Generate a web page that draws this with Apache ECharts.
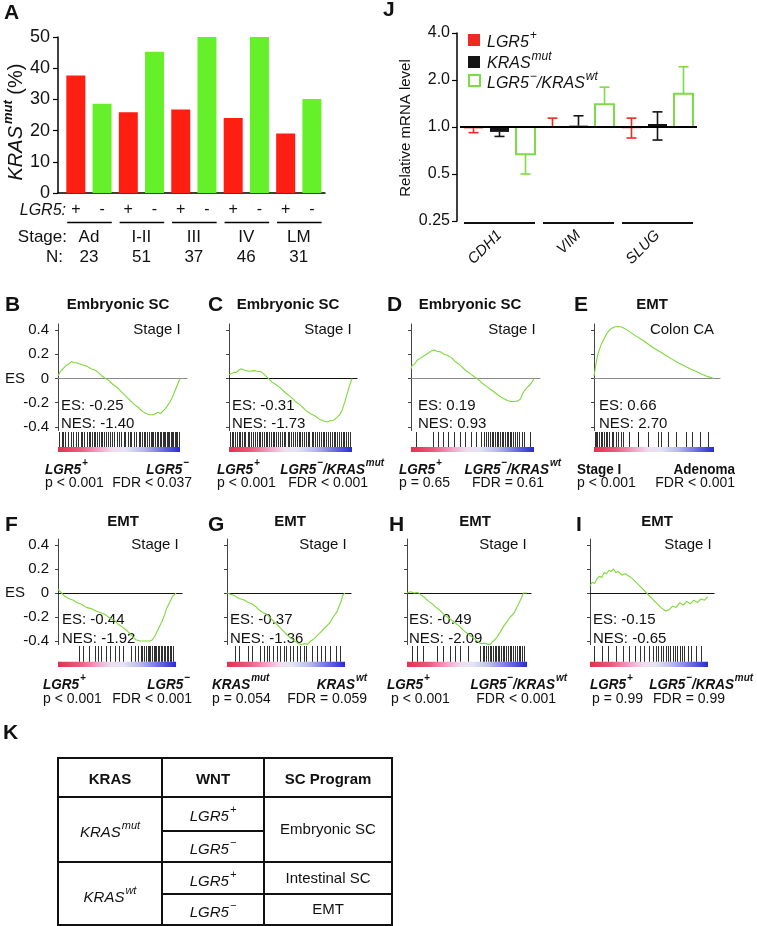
<!DOCTYPE html>
<html><head><meta charset="utf-8">
<script src="https://cdn.jsdelivr.net/npm/echarts@6/dist/echarts.min.js"></script>
<style>html,body{margin:0;padding:0;background:#fff}#c{width:757px;height:926px}</style>
</head><body><div id="c"></div>
<script>
// ---------- Panel A data ----------
const stageNames = ['Ad', 'I-II', 'III', 'IV', 'LM'];
const stageN = ['23', '51', '37', '46', '31'];
const lgr5Signs = ['+', '-'];
const krasMutLgr5Pos = [37.7, 25.9, 26.8, 24.0, 19.1];
const krasMutLgr5Neg = [28.6, 45.3, 50.0, 50.0, 30.1];

// ---------- Panel J data ----------
const genes = ['CDH1', 'VIM', 'SLUG'];
const jTicks = [0.25, 0.5, 1, 2, 4];
const lgr5PosLevel = [0.98, 1.01, 0.99];
const lgr5PosLow = [0.92, 1.01, 0.85];
const lgr5PosHigh = [0.98, 1.14, 1.14];
const krasMutLevel = [0.93, 1.02, 1.045];
const krasMutLow = [0.87, 1.02, 0.825];
const krasMutHigh = [0.93, 1.18, 1.25];
const wtLevel = [0.67, 1.40, 1.63];
const wtLow = [0.50, 1.40, 1.63];
const wtHigh = [0.67, 1.80, 2.43];

// ---------- GSEA panels B-I ----------
const panelLetters = ['B', 'C', 'D', 'E', 'F', 'G', 'H', 'I'];
const gseaTitles = ['Embryonic SC', 'Embryonic SC', 'Embryonic SC', 'EMT', 'EMT', 'EMT', 'EMT', 'EMT'];
const gseaSubtitles = ['Stage I', 'Stage I', 'Stage I', 'Colon CA', 'Stage I', 'Stage I', 'Stage I', 'Stage I'];
const esValues = ['-0.25', '-0.31', '0.19', '0.66', '-0.44', '-0.37', '-0.49', '-0.15'];
const nesValues = ['-1.40', '-1.73', '0.93', '2.70', '-1.92', '-1.36', '-2.09', '-0.65'];
const groupLeft = ['LGR5^+', 'LGR5^+', 'LGR5^+', 'Stage I', 'LGR5^+', 'KRAS^mut', 'LGR5^+', 'LGR5^+'];
const groupRight = ['LGR5^−', 'LGR5^−/KRAS^mut', 'LGR5^−/KRAS^wt', 'Adenoma', 'LGR5^−', 'KRAS^wt', 'LGR5^−/KRAS^wt', 'LGR5^−/KRAS^mut'];
const pValues = ['p < 0.001', 'p < 0.001', 'p = 0.65', 'p < 0.001', 'p < 0.001', 'p = 0.054', 'p < 0.001', 'p = 0.99'];
const fdrValues = ['FDR < 0.037', 'FDR < 0.001', 'FDR = 0.61', 'FDR < 0.001', 'FDR < 0.001', 'FDR = 0.059', 'FDR < 0.001', 'FDR = 0.99'];
const esTicks = [-0.4, -0.2, 0, 0.2, 0.4];

const esCurveB = [[0,0.02],[0.015,0.05],[0.03,0.07],[0.05,0.09],[0.07,0.11],[0.09,0.12],[0.11,0.14],[0.13,0.13],[0.15,0.13],[0.18,0.12],[0.21,0.11],[0.24,0.10],[0.27,0.08],[0.3,0.07],[0.33,0.05],[0.36,0.02],[0.39,0.0],[0.42,-0.02],[0.45,-0.05],[0.48,-0.07],[0.51,-0.10],[0.54,-0.13],[0.57,-0.16],[0.6,-0.19],[0.63,-0.22],[0.66,-0.24],[0.69,-0.27],[0.72,-0.29],[0.75,-0.30],[0.78,-0.30],[0.8,-0.29],[0.82,-0.28],[0.84,-0.29],[0.86,-0.27],[0.88,-0.25],[0.9,-0.22],[0.92,-0.19],[0.94,-0.15],[0.96,-0.10],[0.98,-0.05],[1,0]];
const esCurveC = [[0,0.03],[0.02,0.04],[0.04,0.05],[0.06,0.05],[0.08,0.07],[0.1,0.08],[0.12,0.07],[0.14,0.065],[0.17,0.06],[0.2,0.065],[0.23,0.06],[0.26,0.055],[0.28,0.04],[0.3,0.02],[0.32,0.0],[0.35,-0.03],[0.38,-0.05],[0.42,-0.08],[0.46,-0.12],[0.5,-0.15],[0.54,-0.19],[0.58,-0.22],[0.62,-0.26],[0.66,-0.29],[0.7,-0.31],[0.74,-0.34],[0.78,-0.355],[0.8,-0.36],[0.82,-0.35],[0.85,-0.345],[0.88,-0.32],[0.9,-0.30],[0.92,-0.26],[0.94,-0.20],[0.96,-0.13],[0.98,-0.06],[1,0]];
const esCurveD = [[0,0.08],[0.01,0.11],[0.03,0.12],[0.05,0.15],[0.08,0.17],[0.11,0.19],[0.14,0.21],[0.17,0.23],[0.19,0.235],[0.21,0.225],[0.24,0.22],[0.27,0.20],[0.3,0.19],[0.33,0.17],[0.36,0.14],[0.4,0.11],[0.44,0.07],[0.48,0.04],[0.52,0.01],[0.55,-0.01],[0.58,-0.04],[0.62,-0.07],[0.66,-0.10],[0.7,-0.13],[0.74,-0.16],[0.78,-0.18],[0.81,-0.19],[0.84,-0.19],[0.87,-0.185],[0.89,-0.17],[0.91,-0.12],[0.93,-0.09],[0.95,-0.07],[0.97,-0.05],[0.99,-0.02],[1,0]];
const esCurveE = [[0,0.02],[0.01,0.08],[0.02,0.14],[0.03,0.19],[0.045,0.24],[0.06,0.28],[0.08,0.32],[0.1,0.36],[0.12,0.39],[0.14,0.41],[0.17,0.425],[0.2,0.43],[0.23,0.425],[0.26,0.41],[0.3,0.385],[0.35,0.35],[0.4,0.32],[0.45,0.285],[0.5,0.25],[0.55,0.22],[0.6,0.19],[0.65,0.16],[0.7,0.13],[0.75,0.105],[0.8,0.08],[0.85,0.06],[0.9,0.035],[0.95,0.015],[1,0]];
const esCurveF = [[0,0.03],[0.03,0.0],[0.06,-0.03],[0.1,-0.05],[0.13,-0.06],[0.16,-0.08],[0.21,-0.10],[0.24,-0.12],[0.28,-0.13],[0.32,-0.15],[0.35,-0.16],[0.4,-0.18],[0.44,-0.21],[0.48,-0.23],[0.51,-0.26],[0.54,-0.28],[0.58,-0.31],[0.62,-0.35],[0.66,-0.39],[0.7,-0.40],[0.74,-0.40],[0.78,-0.40],[0.8,-0.39],[0.82,-0.36],[0.84,-0.32],[0.86,-0.28],[0.88,-0.24],[0.9,-0.19],[0.92,-0.13],[0.95,-0.07],[0.97,-0.03],[1,0]];
const esCurveG = [[0,0],[0.03,-0.01],[0.06,-0.02],[0.09,-0.04],[0.12,-0.05],[0.15,-0.06],[0.18,-0.08],[0.21,-0.09],[0.24,-0.11],[0.27,-0.14],[0.3,-0.16],[0.34,-0.18],[0.38,-0.22],[0.42,-0.26],[0.47,-0.31],[0.51,-0.35],[0.56,-0.39],[0.6,-0.42],[0.63,-0.43],[0.66,-0.42],[0.68,-0.43],[0.71,-0.40],[0.74,-0.38],[0.76,-0.36],[0.79,-0.33],[0.82,-0.30],[0.85,-0.27],[0.87,-0.25],[0.9,-0.20],[0.93,-0.16],[0.95,-0.11],[0.97,-0.06],[0.98,-0.02],[1,0]];
const esCurveH = [[0,0],[0.03,0.01],[0.06,0.0],[0.09,0.005],[0.12,-0.02],[0.15,-0.04],[0.18,-0.07],[0.21,-0.09],[0.24,-0.12],[0.27,-0.14],[0.31,-0.18],[0.35,-0.21],[0.39,-0.24],[0.44,-0.28],[0.48,-0.32],[0.52,-0.35],[0.56,-0.38],[0.61,-0.42],[0.65,-0.42],[0.69,-0.43],[0.72,-0.40],[0.75,-0.37],[0.78,-0.32],[0.81,-0.27],[0.84,-0.23],[0.86,-0.20],[0.89,-0.17],[0.92,-0.11],[0.95,-0.05],[0.97,0.0],[1,0]];
const esCurveI = [[0,0.06],[0.02,0.09],[0.04,0.08],[0.06,0.12],[0.08,0.14],[0.1,0.13],[0.12,0.17],[0.14,0.16],[0.16,0.19],[0.18,0.18],[0.2,0.2],[0.22,0.17],[0.24,0.18],[0.27,0.15],[0.3,0.16],[0.33,0.14],[0.36,0.12],[0.4,0.08],[0.44,0.04],[0.48,0.0],[0.52,-0.04],[0.56,-0.08],[0.6,-0.12],[0.64,-0.15],[0.67,-0.14],[0.7,-0.11],[0.73,-0.12],[0.76,-0.08],[0.79,-0.1],[0.82,-0.07],[0.85,-0.09],[0.88,-0.06],[0.91,-0.08],[0.94,-0.05],[0.97,-0.06],[1,-0.03]];

const hitsB = [0.01,0.03,0.045,0.06,0.08,0.105,0.12,0.145,0.16,0.185,0.2,0.215,0.235,0.25,0.262,0.28,0.293,0.305,0.32,0.337,0.35,0.364,0.378,0.392,0.41,0.426,0.44,0.46,0.483,0.5,0.52,0.537,0.553,0.572,0.588,0.6,0.622,0.641,0.66,0.676,0.69,0.703,0.716,0.731,0.746,0.76,0.771,0.782,0.797,0.81,0.821,0.833,0.846,0.858,0.869,0.88,0.892,0.9,0.912,0.923,0.936,0.946,0.955,0.966,0.977,0.988];
const hitsC = [0.008,0.022,0.036,0.05,0.063,0.081,0.092,0.107,0.121,0.133,0.152,0.166,0.178,0.196,0.208,0.224,0.243,0.256,0.268,0.281,0.297,0.311,0.322,0.343,0.355,0.368,0.386,0.402,0.413,0.431,0.447,0.458,0.476,0.491,0.504,0.522,0.533,0.551,0.566,0.579,0.597,0.608,0.626,0.641,0.653,0.672,0.684,0.698,0.716,0.728,0.744,0.762,0.773,0.791,0.803,0.821,0.834,0.852,0.863,0.879,0.896,0.908,0.926,0.938,0.953,0.971,0.984];
const hitsD = [0.04,0.18,0.22,0.26,0.3,0.35,0.4,0.44,0.49,0.53,0.57,0.59,0.61,0.625,0.64,0.655,0.67,0.685,0.7,0.71,0.725,0.74,0.75,0.765,0.78,0.79,0.805,0.815,0.83,0.845,0.86,0.875,0.9,0.92,0.97];
const hitsE = [0.005,0.014,0.028,0.042,0.056,0.07,0.084,0.098,0.11,0.126,0.146,0.16,0.18,0.2,0.224,0.24,0.29,0.365,0.37,0.45,0.53,0.56,0.62,0.68,0.77,0.82,0.88,0.95];
const hitsF = [0.18,0.21,0.265,0.31,0.34,0.365,0.41,0.44,0.48,0.52,0.55,0.62,0.65,0.68,0.7,0.715,0.73,0.745,0.76,0.77,0.78,0.795,0.81,0.82,0.83,0.845,0.86,0.87,0.88,0.895,0.91,0.92,0.935,0.95,0.96,0.975];
const hitsG = [0.07,0.1,0.18,0.21,0.28,0.31,0.34,0.36,0.39,0.42,0.45,0.48,0.5,0.53,0.56,0.59,0.62,0.65,0.67,0.72,0.76,0.8,0.83,0.87,0.92,0.96];
const hitsH = [0.04,0.08,0.135,0.25,0.3,0.36,0.4,0.44,0.51,0.61,0.63,0.645,0.66,0.675,0.69,0.7,0.715,0.73,0.74,0.755,0.77,0.785,0.8,0.81,0.825,0.84,0.855,0.87,0.885,0.9,0.915,0.93,0.945,0.96,0.975];
const hitsI = [0.03,0.1,0.15,0.22,0.28,0.33,0.38,0.42,0.46,0.5,0.53,0.56,0.58,0.6,0.62,0.64,0.66,0.68,0.7,0.72,0.74,0.76,0.78,0.8,0.83,0.86,0.9,0.94];

const esCurves = [esCurveB, esCurveC, esCurveD, esCurveE, esCurveF, esCurveG, esCurveH, esCurveI];
const hitLists = [hitsB, hitsC, hitsD, hitsE, hitsF, hitsG, hitsH, hitsI];

// ---------- Panel K table ----------
const tableHeader = ['KRAS', 'WNT', 'SC Program'];
const tableKras = ['KRAS^mut', 'KRAS^wt'];
const tableWnt = ['LGR5^+', 'LGR5^−', 'LGR5^+', 'LGR5^−'];
const tableProgram = ['Embryonic SC', 'Intestinal SC', 'EMT'];

// ================= build =================
const FONT = '"Liberation Sans", Arial, Helvetica, sans-serif';
const RED = '#ff1e12', GREEN = '#66f02a', JGREEN = '#7ddc45', CURVE = '#7fd83c', INK = '#111';

function toRich(s, b, p) {
  const out = '{' + b + '|' + s.replace(/\^([^\/]+)/g, '}{' + p + '|$1}{' + b + '|') + '}';
  return out.split('{' + b + '|}').join('');
}
function txt(x, y, text, o) {
  o = o || {};
  const st = Object.assign({ text: text, fill: INK, fontFamily: FONT, fontSize: 15 }, o);
  const a = o.align || 'left', va = o.valign || 'middle';
  st.textAlign = a; st.align = a; st.textVerticalAlign = va; st.verticalAlign = va;
  delete st.valign;
  const el = { type: 'text', x: x, y: y, silent: true, style: st };
  if (o.rotation) { el.rotation = o.rotation; delete st.rotation; }
  if (o.scaleX) { el.scaleX = o.scaleX; delete st.scaleX; }
  return el;
}
const supRich = (size, bold, italic) => ({
  b: { fontFamily: FONT, fontSize: size, fontWeight: bold ? 'bold' : 'normal', fontStyle: italic ? 'italic' : 'normal', fill: INK, color: INK, lineHeight: size + 5, verticalAlign: 'bottom' },
  p: { fontFamily: FONT, fontSize: Math.round(size * 0.72), fontWeight: bold ? 'bold' : 'normal', fontStyle: italic ? 'italic' : 'normal', fill: INK, color: INK, lineHeight: Math.round(size * 0.72) + 1, verticalAlign: 'top', padding: [0, 0, 0, 1] }
});

const grids = [], xAxes = [], yAxes = [], series = [], G = [];

// ---- Panel A ----
grids.push({ left: 58, top: 37, width: 267, height: 156 });
const aX = { gridIndex: 0, type: 'value', min: -0.68, max: 9.5, splitLine: { show: false }, axisTick: { show: false } };
xAxes.push(Object.assign({}, aX, {
  axisLine: { show: true, onZero: false, lineStyle: { color: '#000', width: 1.5 } },
  axisLabel: { customValues: stageNames.flatMap((_, i) => [2 * i, 2 * i + 1]), formatter: v => lgr5Signs[Math.round(v) % 2], fontSize: 16, margin: 9, color: INK, fontFamily: FONT }
}));
xAxes.push(Object.assign({}, aX, {
  position: 'bottom', offset: 30, axisLine: { show: false, onZero: false },
  axisLabel: { customValues: stageNames.map((_, i) => 2 * i + 0.5), formatter: v => stageNames[Math.round((v - 0.5) / 2)], fontSize: 17, margin: 6, color: INK, fontFamily: FONT }
}));
xAxes.push(Object.assign({}, aX, {
  position: 'bottom', offset: 50, axisLine: { show: false, onZero: false },
  axisLabel: { customValues: stageNames.map((_, i) => 2 * i + 0.5), formatter: v => stageN[Math.round((v - 0.5) / 2)], fontSize: 17, margin: 6, color: INK, fontFamily: FONT }
}));
yAxes.push({ gridIndex: 0, type: 'value', min: 0, max: 50, interval: 10,
  axisLine: { show: true, onZero: false, lineStyle: { color: '#000', width: 1.5 } },
  axisTick: { show: true, length: 5, lineStyle: { color: '#000', width: 1.2 } },
  splitLine: { show: false },
  axisLabel: { fontSize: 18, margin: 8, color: INK, fontFamily: FONT } });
series.push({ type: 'bar', name: 'LGR5+', xAxisIndex: 0, yAxisIndex: 0, barWidth: 19, barGap: '-100%', itemStyle: { color: RED }, data: krasMutLgr5Pos.map((v, i) => [2 * i, v]) });
series.push({ type: 'bar', name: 'LGR5-', xAxisIndex: 0, yAxisIndex: 0, barWidth: 19, barGap: '-100%', itemStyle: { color: GREEN }, data: krasMutLgr5Neg.map((v, i) => [2 * i + 1, v]) });
series.push({ type: 'custom', xAxisIndex: 0, yAxisIndex: 0, silent: true, clip: false,
  data: stageNames.map((_, i) => [2 * i, 2 * i + 1]),
  encode: { x: [0, 1] },
  renderItem: (p, api) => {
    const a = api.coord([api.value(0) - 0.33, 0]), b = api.coord([api.value(1) + 0.37, 0]);
    return { type: 'line', shape: { x1: a[0], y1: a[1] + 29.5, x2: b[0], y2: b[1] + 29.5 }, style: { stroke: '#000', lineWidth: 1.5 } };
  } });
G.push(txt(4, 13, 'A', { fontSize: 21, fontWeight: 'bold' }));
G.push(txt(66, 211, 'LGR5:', { align: 'right', fontSize: 16, fontStyle: 'italic' }));
G.push(txt(67, 237, 'Stage:', { align: 'right', fontSize: 17 }));
G.push(txt(63, 257, 'N:', { align: 'right', fontSize: 17 }));
G.push(txt(14, 122, '{i|KRAS}{s|mut}{n| (%)}', { align: 'center', rotation: Math.PI / 2,
  rich: { i: { fontFamily: FONT, fontSize: 20, fontStyle: 'italic', fill: INK, lineHeight: 24, verticalAlign: 'bottom' },
          s: { fontFamily: FONT, fontSize: 13, fontStyle: 'italic', fontWeight: 'bold', fill: INK, lineHeight: 14, verticalAlign: 'top', padding: [0, 0, 0, 2] },
          n: { fontFamily: FONT, fontSize: 20, fill: INK, lineHeight: 24, verticalAlign: 'bottom' } } }));

// ---- Panel J ----
grids.push({ left: 460, top: 33, width: 237, height: 188 });
const JX = xAxes.length;
xAxes.push({ gridIndex: 1, type: 'category', data: genes, axisLine: { show: false }, axisTick: { show: false }, splitLine: { show: false },
  axisLabel: { rotate: 45, fontStyle: 'italic', fontSize: 15, margin: 12, color: INK, fontFamily: FONT } });
const JY = yAxes.length;
yAxes.push({ gridIndex: 1, type: 'log', logBase: 2, min: 0.25, max: 4, offset: 3,
  axisLine: { show: true, onZero: false, lineStyle: { color: '#000', width: 1.5 } },
  axisTick: { show: true, length: 5, customValues: jTicks, lineStyle: { color: '#000', width: 1.2 } },
  splitLine: { show: false },
  axisLabel: { customValues: jTicks, fontSize: 16, margin: 7, color: INK, fontFamily: FONT,
    formatter: v => { const r = Math.round(v * 100) / 100; return r < 1 ? String(r) : r.toFixed(1); } } });
function jSeries(name, lv, lo, hi, color, hollow, off) {
  return { type: 'custom', name: name, xAxisIndex: JX, yAxisIndex: JY, silent: true, clip: false,
    data: lv.map((v, i) => [i, v, lo[i], hi[i]]), encode: { x: 0, y: [1, 2, 3] },
    renderItem: (p, api) => {
      const i = api.value(0), v = api.value(1), l = api.value(2), h = api.value(3);
      const base = api.coord([i, 1]), cv = api.coord([i, v]);
      const cx = base[0] + off, yl = api.coord([i, l])[1], yh = api.coord([i, h])[1];
      const w = 19, ch = [];
      const top = Math.min(base[1], cv[1]), ht = Math.max(Math.abs(base[1] - cv[1]), 1.2);
      ch.push({ type: 'rect', shape: { x: cx - w / 2, y: top, width: w, height: ht },
        style: hollow ? { fill: '#fff', stroke: color, lineWidth: 2 } : { fill: color } });
      ch.push({ type: 'line', shape: { x1: cx, y1: yl, x2: cx, y2: yh }, style: { stroke: color, lineWidth: 1.6 } });
      if (Math.abs(l - v) > 1e-6) ch.push({ type: 'line', shape: { x1: cx - 5, y1: yl, x2: cx + 5, y2: yl }, style: { stroke: color, lineWidth: 1.6 } });
      if (Math.abs(h - v) > 1e-6) ch.push({ type: 'line', shape: { x1: cx - 5, y1: yh, x2: cx + 5, y2: yh }, style: { stroke: color, lineWidth: 1.6 } });
      return { type: 'group', children: ch };
    } };
}
series.push(jSeries('LGR5+', lgr5PosLevel, lgr5PosLow, lgr5PosHigh, '#ee2a22', false, -26));
const blackS = jSeries('KRASmut', krasMutLevel, krasMutLow, krasMutHigh, '#151515', false, 0);
blackS.markLine = { silent: true, symbol: 'none', label: { show: false }, data: [{ yAxis: 1 }], lineStyle: { color: '#000', width: 2, type: 'solid' }, z: 10 };
series.push(blackS);
series.push(jSeries('LGR5-/KRASwt', wtLevel, wtLow, wtHigh, JGREEN, true, 26));
series.push({ type: 'custom', xAxisIndex: JX, yAxisIndex: JY, silent: true, clip: false,
  data: genes.map((g, i) => [i, 0.25]),
  renderItem: (p, api) => {
    const c = api.coord([api.value(0), api.value(1)]);
    return { type: 'line', shape: { x1: c[0] - 35.5, y1: c[1] + 2, x2: c[0] + 35.5, y2: c[1] + 2 }, style: { stroke: '#111', lineWidth: 2 } };
  } });
G.push(txt(383, 10, 'J', { fontSize: 21, fontWeight: 'bold' }));
G.push(txt(406, 128, 'Relative mRNA level', { align: 'center', rotation: Math.PI / 2, fontSize: 15 }));
G.push({ type: 'rect', silent: true, shape: { x: 468, y: 34, width: 12, height: 12 }, style: { fill: '#ee2a22' } });
G.push({ type: 'rect', silent: true, shape: { x: 468, y: 56, width: 12, height: 12 }, style: { fill: '#151515' } });
G.push({ type: 'rect', silent: true, shape: { x: 469, y: 75, width: 11, height: 11 }, style: { fill: '#fff', stroke: JGREEN, lineWidth: 2 } });
const legRich = supRich(16, false, true);
G.push(txt(487, 40, toRich('LGR5^+', 'b', 'p'), { rich: legRich }));
G.push(txt(487, 61, toRich('KRAS^mut', 'b', 'p'), { rich: legRich }));
G.push(txt(487, 81, toRich('LGR5^−/KRAS^wt', 'b', 'p'), { rich: legRich }));

// ---- GSEA panels ----
const rows = [
  { top: 324, h: 106.5, bcTop: 432, bcH: 20, titleY: 305, subY: 330, esY: 406, nesY: 424, labY: 467, pY: 483, letterY: 305, esLabY: 378.5 },
  { top: 539, h: 105.6, bcTop: 646, bcH: 21, titleY: 522, subY: 545, esY: 620, nesY: 639, labY: 682, pY: 699, letterY: 525, esLabY: 593 }
];
const lay = [
  { axis: 58, right: 187, end: 180, titleX: 118, letterX: 5, subX: 157, esX: 61, leftX: 45, rightEnd: 189, pX: 45, fdrEnd: 192, zero: '#8a8a8a' },
  { axis: 229, right: 357, end: 352, titleX: 288, letterX: 208, subX: 328, esX: 232, leftX: 217, rightEnd: 384, pX: 217, fdrEnd: 368, zero: '#111' },
  { axis: 411, right: 540, end: 534, titleX: 470, letterX: 387, subX: 512, esX: 418, leftX: 399, rightEnd: 561, pX: 399, fdrEnd: 544, zero: '#8a8a8a' },
  { axis: 594, right: 720, end: 714, titleX: 652, letterX: 574, subX: 682, esX: 599, leftX: 577, rightEnd: 735, pX: 577, fdrEnd: 735, zero: '#8a8a8a' },
  { axis: 58, right: 182, end: 176, titleX: 123, letterX: 5, subX: 155, esX: 62, leftX: 43, rightEnd: 190, pX: 43, fdrEnd: 192, zero: '#111' },
  { axis: 227, right: 351, end: 345, titleX: 290, letterX: 208, subX: 323, esX: 230, leftX: 212, rightEnd: 367, pX: 212, fdrEnd: 367, zero: '#111' },
  { axis: 407, right: 531, end: 527, titleX: 475, letterX: 389, subX: 503, esX: 409, leftX: 387, rightEnd: 567, pX: 391, fdrEnd: 556, zero: '#111' },
  { axis: 590, right: 714, end: 708, titleX: 657, letterX: 576, subX: 688, esX: 593, leftX: 590, rightEnd: 753, pX: 592, fdrEnd: 725, zero: '#111' }
];
const RAMP = 0.25;
const labRich = supRich(15, true, true);
labRich.n = { fontFamily: FONT, fontSize: 15, fontWeight: 'bold', fill: INK, lineHeight: 20, verticalAlign: 'bottom' };
lay.forEach((L, k) => {
  const R = rows[k < 4 ? 0 : 1];
  const xmax = (L.right - L.axis) / (L.end - L.axis);
  const gi = grids.length;
  grids.push({ left: L.axis, top: R.top, width: L.right - L.axis, height: R.h });
  xAxes.push({ gridIndex: gi, type: 'value', min: 0, max: xmax, axisTick: { show: false }, axisLabel: { show: false }, splitLine: { show: false },
    axisLine: { show: true, onZero: true, lineStyle: { color: L.zero, width: 1.2 } } });
  yAxes.push({ gridIndex: gi, type: 'value', min: -0.43, max: 0.45, splitLine: { show: false },
    axisLine: { show: true, onZero: false, lineStyle: { color: '#444', width: 1 } },
    axisTick: { show: true, length: 3, customValues: esTicks, lineStyle: { color: '#444' } },
    axisLabel: { show: k % 4 === 0, customValues: esTicks, fontSize: 15, margin: 9, color: INK, fontFamily: FONT,
      formatter: v => Math.abs(v) < 1e-9 ? '0' : v.toFixed(1) } });
  const xi = xAxes.length - 1, yi = yAxes.length - 1;
  series.push({ type: 'line', xAxisIndex: xi, yAxisIndex: yi, data: esCurves[k], showSymbol: false, silent: true,
    lineStyle: { color: CURVE, width: 1.1 }, z: 3 });
  const bi = grids.length;
  grids.push({ left: L.axis, top: R.bcTop, width: L.right - L.axis, height: R.bcH });
  xAxes.push({ gridIndex: bi, type: 'value', min: 0, max: xmax, show: false });
  yAxes.push({ gridIndex: bi, type: 'value', min: 0, max: 1, show: false });
  const bxi = xAxes.length - 1, byi = yAxes.length - 1;
  series.push({ type: 'custom', xAxisIndex: bxi, yAxisIndex: byi, silent: true, data: [[0, 1]], encode: { x: [0, 1] },
    renderItem: (p, api) => {
      const a = api.coord([api.value(0), RAMP]), b = api.coord([api.value(1), 0]);
      return { type: 'rect', shape: { x: a[0], y: a[1], width: b[0] - a[0], height: b[1] - a[1] },
        style: { fill: { type: 'linear', x: 0, y: 0, x2: 1, y2: 0, colorStops: [
          { offset: 0, color: '#e5304f' }, { offset: 0.18, color: '#ea5a7c' }, { offset: 0.33, color: '#f2a0c4' },
          { offset: 0.45, color: '#f1dcef' }, { offset: 0.55, color: '#e4e4f6' }, { offset: 0.7, color: '#b8b8ee' },
          { offset: 0.85, color: '#6f6fe0' }, { offset: 1, color: '#2a2ad8' }] } } };
    } });
  series.push({ type: 'custom', xAxisIndex: bxi, yAxisIndex: byi, silent: true, data: hitLists[k].map(h => [h, 1]),
    renderItem: (p, api) => {
      const t = api.coord([api.value(0), api.value(1)]), b = api.coord([api.value(0), RAMP]);
      return { type: 'line', shape: { x1: Math.round(t[0]) + 0.5, y1: t[1], x2: Math.round(t[0]) + 0.5, y2: b[1] }, style: { stroke: '#1a1a1a', lineWidth: 1, opacity: 0.9 } };
    } });
  // texts
  G.push(txt(L.letterX, R.letterY, panelLetters[k], { fontSize: 21, fontWeight: 'bold' }));
  G.push(txt(L.titleX, R.titleY, gseaTitles[k], { align: 'center', fontSize: 15, fontWeight: 'bold' }));
  G.push(txt(L.subX, R.subY, gseaSubtitles[k], { align: 'center', fontSize: 15 }));
  G.push(txt(L.esX, R.esY, 'ES: ' + esValues[k], { fontSize: 15 }));
  G.push(txt(L.esX, R.nesY, 'NES: ' + nesValues[k], { fontSize: 15 }));
  const base = s => /LGR5|KRAS/.test(s) ? 'b' : 'n';
  G.push(txt(L.leftX, R.labY, toRich(groupLeft[k], base(groupLeft[k]), 'p'), { rich: labRich, scaleX: 0.9 }));
  G.push(txt(L.rightEnd, R.labY, toRich(groupRight[k], base(groupRight[k]), 'p'), { rich: labRich, align: 'right', scaleX: 0.9 }));
  G.push(txt(L.pX, R.pY, pValues[k], { fontSize: 14 }));
  G.push(txt(L.fdrEnd, R.pY, fdrValues[k], { fontSize: 14, align: 'right' }));
  if (k % 4 === 0) G.push(txt(5, R.esLabY, 'ES', { fontSize: 15 }));
});

// ---- Panel K table ----
G.push(txt(3, 733, 'K', { fontSize: 21, fontWeight: 'bold' }));
const TL = 58, TR = 392, C1 = 162, C2 = 264, TT = 758, TB = 925;
const seg = (x1, y1, x2, y2) => ({ type: 'line', silent: true, shape: { x1, y1, x2, y2 }, style: { stroke: '#111', lineWidth: 2 } });
G.push({ type: 'rect', silent: true, shape: { x: TL, y: TT, width: TR - TL, height: TB - TT }, style: { fill: 'none', stroke: '#111', lineWidth: 2 } });
G.push(seg(C1, TT, C1, TB), seg(C2, TT, C2, TB), seg(TL, 797, TR, 797), seg(TL, 862, TR, 862), seg(C1, 831, C2, 831), seg(C1, 894, TR, 894));
const colX = [(TL + C1) / 2, (C1 + C2) / 2, (C2 + TR) / 2];
tableHeader.forEach((h, i) => G.push(txt(colX[i], 780, h, { align: 'center', fontSize: 15, fontWeight: 'bold' })));
const cellRich = supRich(15, false, true);
[830, 895].forEach((y, i) => G.push(txt(colX[0], y, toRich(tableKras[i], 'b', 'p'), { align: 'center', rich: cellRich })));
[814, 847, 879, 910].forEach((y, i) => G.push(txt(colX[1], y, toRich(tableWnt[i], 'b', 'p'), { align: 'center', rich: cellRich })));
[830, 879, 910].forEach((y, i) => G.push(txt(colX[2], y, tableProgram[i], { align: 'center', fontSize: 15 })));

const chart = echarts.init(document.getElementById('c'), null, { renderer: 'canvas', width: 757, height: 926 });
chart.setOption({
  animation: false,
  backgroundColor: '#fff',
  textStyle: { fontFamily: FONT },
  grid: grids, xAxis: xAxes, yAxis: yAxes, series: series,
  graphic: { elements: G }
});
</script></body></html>
